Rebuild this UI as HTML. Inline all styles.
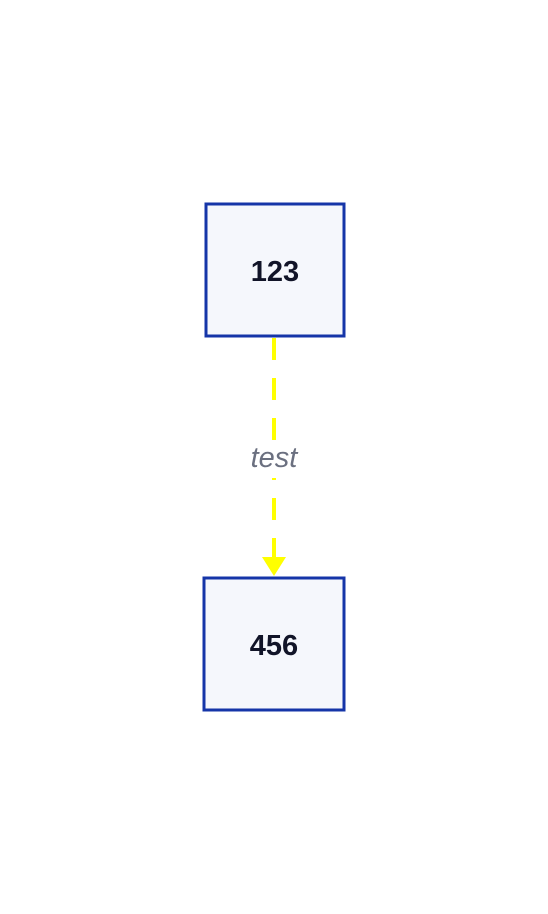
<!DOCTYPE html>
<html><head><meta charset="utf-8"><style>
html,body{margin:0;padding:0;background:#fff;width:548px;height:914px;overflow:hidden}
</style></head><body>
<svg width="548" height="914" viewBox="0 0 548 914">
<rect x="0" y="0" width="548" height="914" fill="#fff"/>
<line x1="274" y1="338" x2="274" y2="558" stroke="#ffff00" stroke-width="4" stroke-dasharray="22,18"/>
<rect x="244" y="440" width="60" height="38" fill="#fff"/>
<text x="274" y="467" text-anchor="middle" font-family="'Liberation Sans',sans-serif" font-style="italic" font-size="29" fill="#6b7080">test</text>
<polygon points="262,557 286,557 274,576" fill="#ffff00"/>
<rect x="206" y="204" width="138" height="132" fill="#f5f7fc" stroke="#1535a8" stroke-width="3"/>
<text x="275" y="281" text-anchor="middle" font-family="'Liberation Sans',sans-serif" font-weight="bold" font-size="29" fill="#111428">123</text>
<rect x="204" y="578" width="140" height="132" fill="#f5f7fc" stroke="#1535a8" stroke-width="3"/>
<text x="274" y="655" text-anchor="middle" font-family="'Liberation Sans',sans-serif" font-weight="bold" font-size="29" fill="#111428">456</text>
</svg>
</body></html>
